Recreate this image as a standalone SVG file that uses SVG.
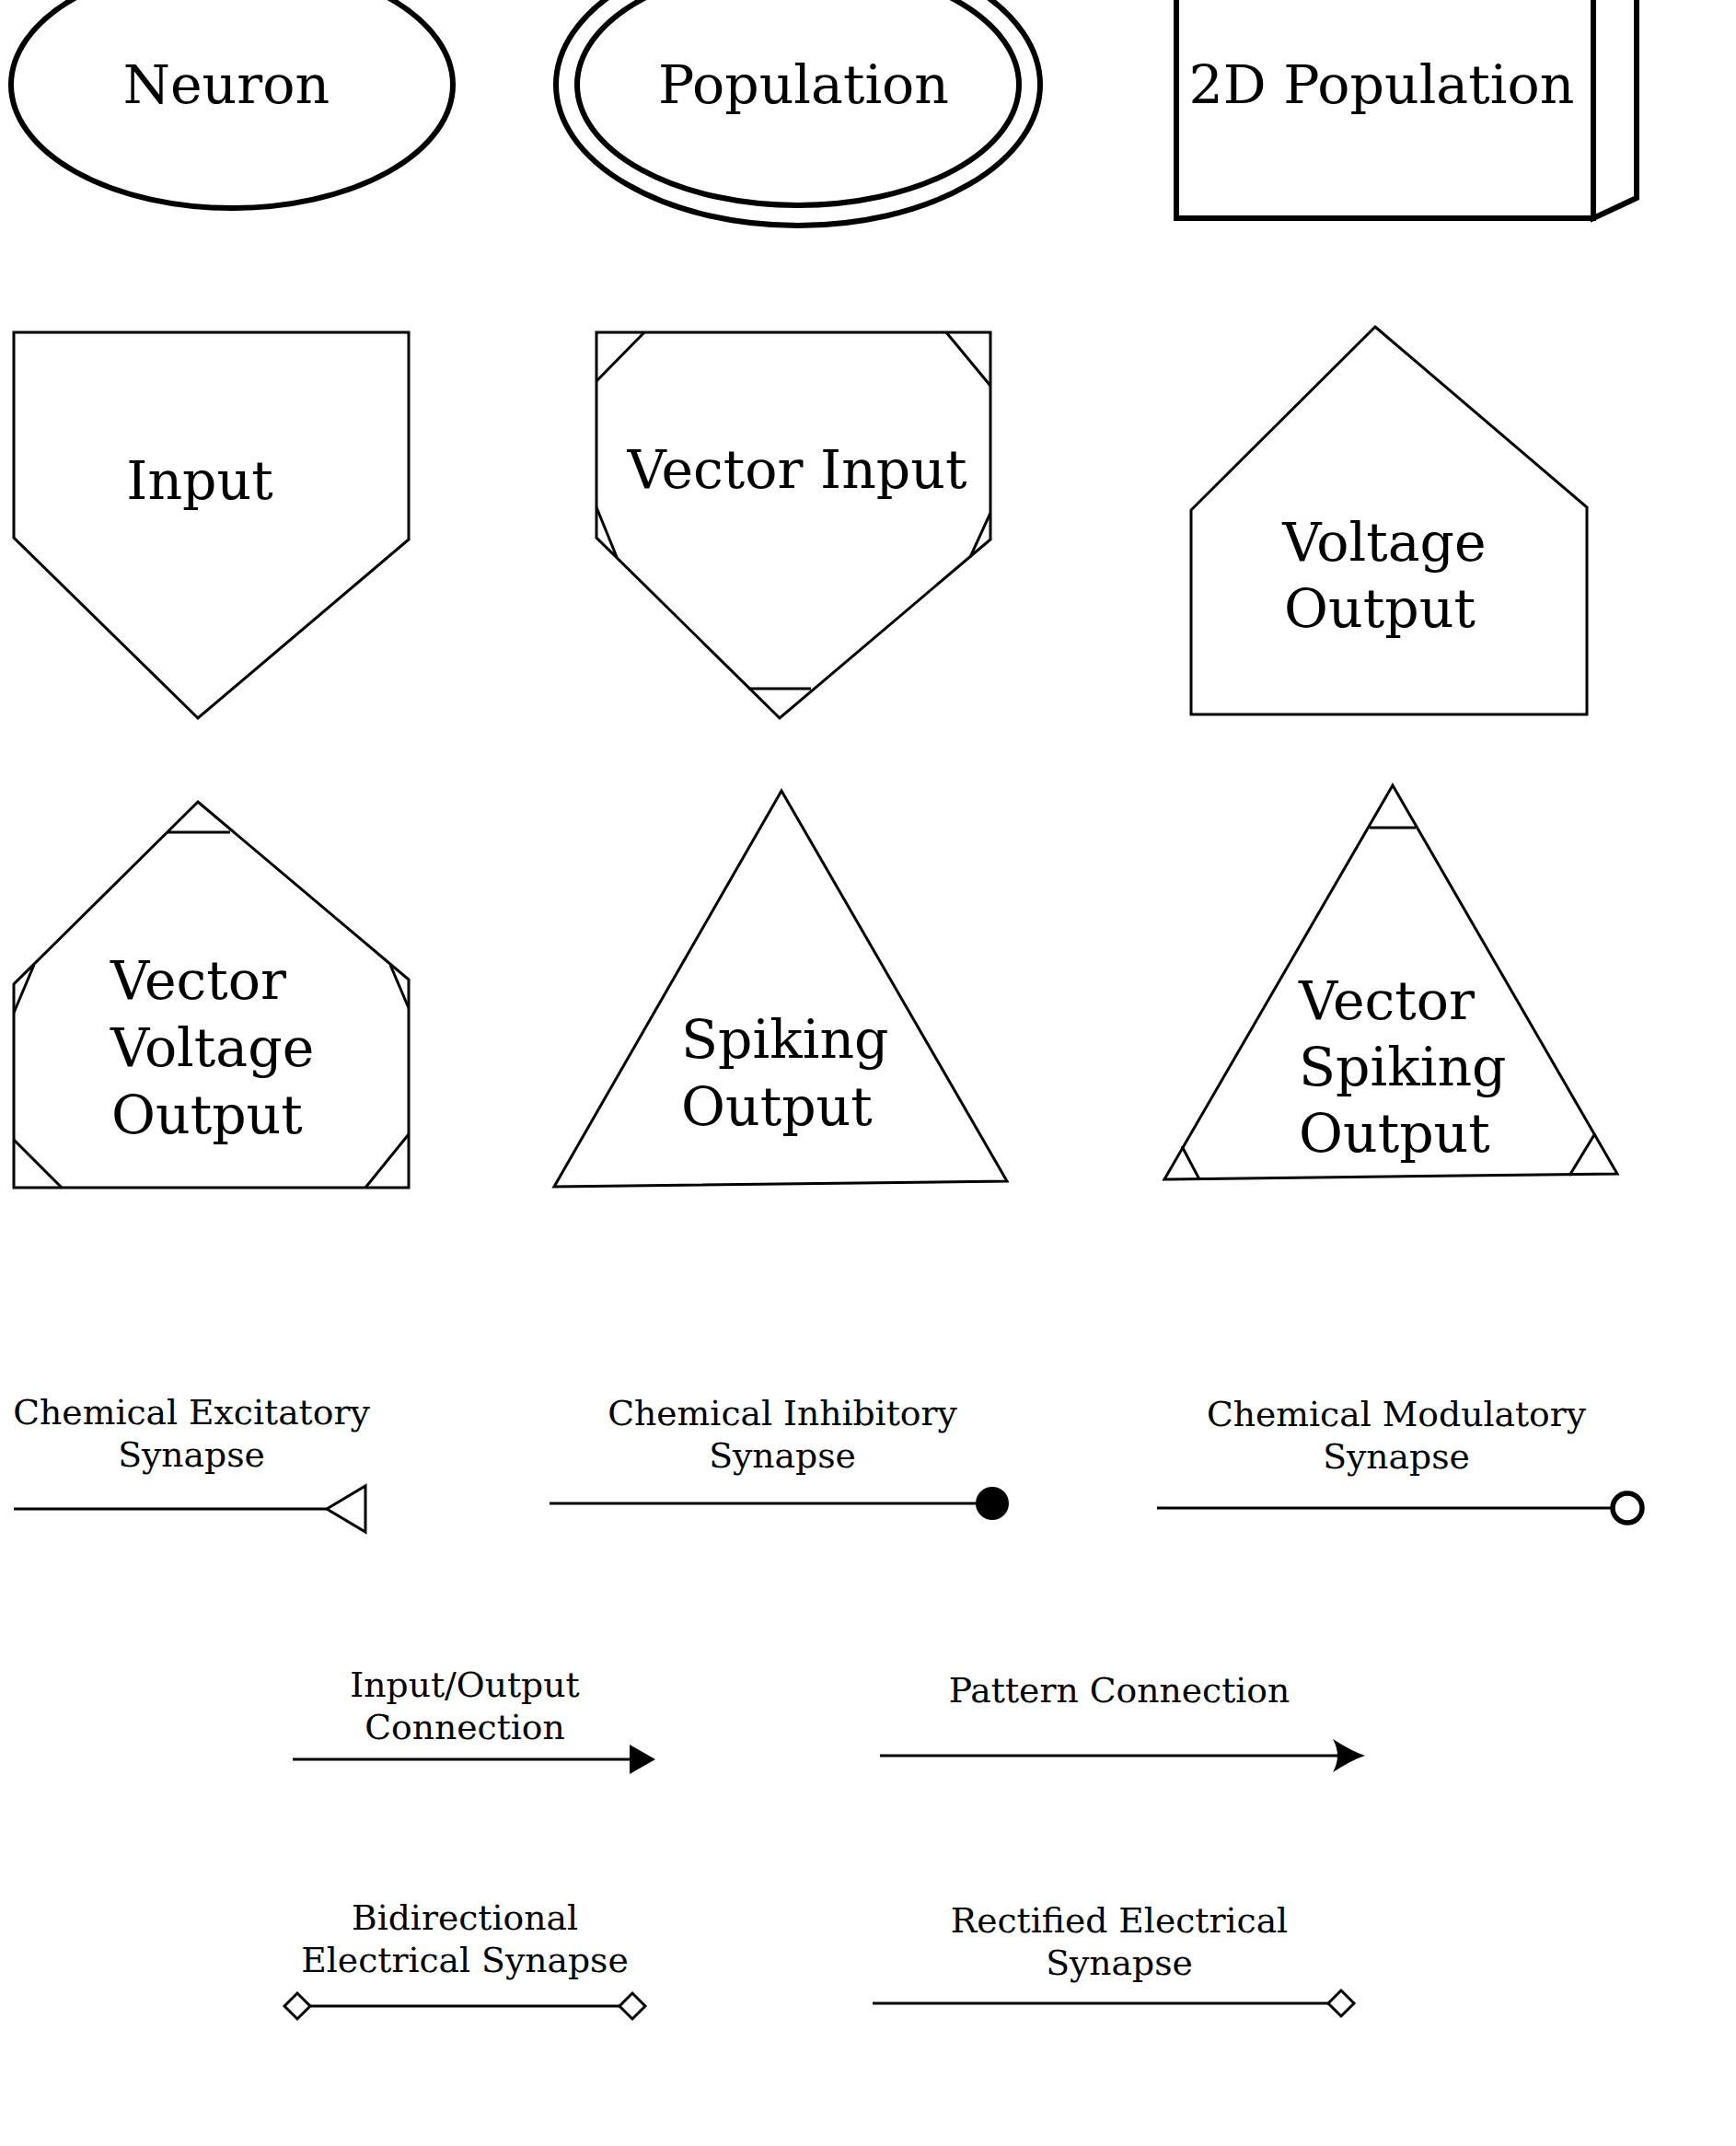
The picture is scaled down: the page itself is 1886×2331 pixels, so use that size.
<svg xmlns="http://www.w3.org/2000/svg" width="1886" height="2331" viewBox="0 0 1886 2331">
<style>
.bg{fill:#ffffff}
.thick{fill:#ffffff;stroke:#000;stroke-width:6}
.shape{fill:#ffffff;stroke:#000;stroke-width:3;stroke-linejoin:miter}
.tick{fill:none;stroke:#000;stroke-width:3}
.big{font-family:"DejaVu Serif",serif;font-size:58.5px;fill:#000}
.lbl{font-family:"DejaVu Serif",serif;font-size:37.7px;fill:#000;text-anchor:middle}
.mid{text-anchor:middle}
.conn{fill:none;stroke:#000;stroke-width:3}
</style>
<rect class="bg" x="0" y="0" width="1886" height="2331"/>

<g id="neuron">
<ellipse class="thick" cx="252" cy="92" rx="240" ry="134"/>
<text class="big mid" x="246" y="112">Neuron</text>
</g>

<g id="population">
<ellipse class="thick" cx="867" cy="92" rx="263" ry="153"/>
<ellipse class="thick" cx="867" cy="92" rx="240" ry="131"/>
<text class="big mid" x="873" y="112">Population</text>
</g>

<g id="population2d">
<polygon class="thick" points="1731,-60 1778,-82 1778,215 1731,237"/>
<rect class="thick" x="1278" y="-60" width="453" height="297"/>
<text class="big mid" x="1501" y="112">2D Population</text>
</g>

<g id="input">
<polygon class="shape" points="15,361 444,361 444,586 215,780 15,584"/>
<text class="big mid" x="217" y="542">Input</text>
</g>

<g id="vector-input">
<polygon class="shape" points="648,361 1076,361 1076,586 847,780 648,584"/>
<path class="tick" d="M700,361 L648,414 M1028,361 L1076,419 M648,551 L670,605 M1076,557 L1054,605 M813,748 L881,748"/>
<text class="big mid" x="866" y="530">Vector Input</text>
</g>

<g id="voltage-output">
<polygon class="shape" points="1494,355 1724,551 1724,776 1294,776 1294,554"/>
<text class="big mid" x="1504" y="609">Voltage</text>
<text class="big mid" x="1499" y="681">Output</text>
</g>

<g id="vector-voltage-output">
<polygon class="shape" points="215,871 444,1064 444,1290 15,1290 15,1069"/>
<path class="tick" d="M181,904 L250,904 M37,1048 L15,1100 M424,1048 L444,1095 M15,1238 L67,1290 M444,1232 L397,1290"/>
<text class="big" x="120" y="1085">Vector</text>
<text class="big" x="120" y="1158">Voltage</text>
<text class="big" x="121" y="1231">Output</text>
</g>

<g id="spiking-output">
<polygon class="shape" points="849,859 1094,1283 602,1289"/>
<text class="big" x="740" y="1149">Spiking</text>
<text class="big" x="740" y="1222">Output</text>
</g>

<g id="vector-spiking-output">
<polygon class="shape" points="1513,853 1757,1275 1265,1281"/>
<path class="tick" d="M1488,899 L1538,899 M1284,1245 L1303,1281 M1733,1231 L1705,1277"/>
<text class="big" x="1411" y="1107">Vector</text>
<text class="big" x="1411" y="1179">Spiking</text>
<text class="big" x="1411" y="1251">Output</text>
</g>

<g id="connectors">
<g id="chemical-excitatory">
<line class="conn" x1="15" y1="1639" x2="355" y2="1639"/>
<polygon class="shape" points="355,1639 397,1614 397,1664"/>
<text class="lbl" x="208" y="1547">Chemical Excitatory</text>
<text class="lbl" x="208" y="1593">Synapse</text>
</g>
<g id="chemical-inhibitory">
<line class="conn" x1="597" y1="1633" x2="1062" y2="1633"/>
<circle cx="1078" cy="1633" r="18" fill="#000"/>
<text class="lbl" x="850" y="1548">Chemical Inhibitory</text>
<text class="lbl" x="850" y="1594">Synapse</text>
</g>
<g id="chemical-modulatory">
<line class="conn" x1="1257" y1="1638" x2="1752" y2="1638"/>
<circle cx="1768" cy="1638" r="16" fill="#fff" stroke="#000" stroke-width="5.5"/>
<text class="lbl" x="1517" y="1549">Chemical Modulatory</text>
<text class="lbl" x="1517" y="1595">Synapse</text>
</g>
<g id="io-connection">
<line class="conn" x1="318" y1="1911" x2="686" y2="1911"/>
<polygon points="684,1895 712,1911 684,1927" fill="#000"/>
<text class="lbl" x="505" y="1843">Input/Output</text>
<text class="lbl" x="505" y="1889">Connection</text>
</g>
<g id="pattern-connection">
<line class="conn" x1="956" y1="1907" x2="1460" y2="1907"/>
<path d="M1448,1889 Q1470,1903 1483,1907 Q1470,1911 1448,1925 Q1458,1907 1448,1889 Z" fill="#000"/>
<text class="lbl" x="1216" y="1849">Pattern Connection</text>
</g>
<g id="bidirectional-electrical">
<line class="conn" x1="337" y1="2179" x2="673" y2="2179"/>
<polygon class="shape" points="309,2179 323,2165 337,2179 323,2193"/>
<polygon class="shape" points="673,2179 687,2165 701,2179 687,2193"/>
<text class="lbl" x="505" y="2096">Bidirectional</text>
<text class="lbl" x="505" y="2142">Electrical Synapse</text>
</g>
<g id="rectified-electrical">
<line class="conn" x1="948" y1="2176" x2="1443" y2="2176"/>
<polygon class="shape" points="1443,2176 1457,2162 1471,2176 1457,2190"/>
<text class="lbl" x="1216" y="2099">Rectified Electrical</text>
<text class="lbl" x="1216" y="2145">Synapse</text>
</g>
</g>
</svg>
